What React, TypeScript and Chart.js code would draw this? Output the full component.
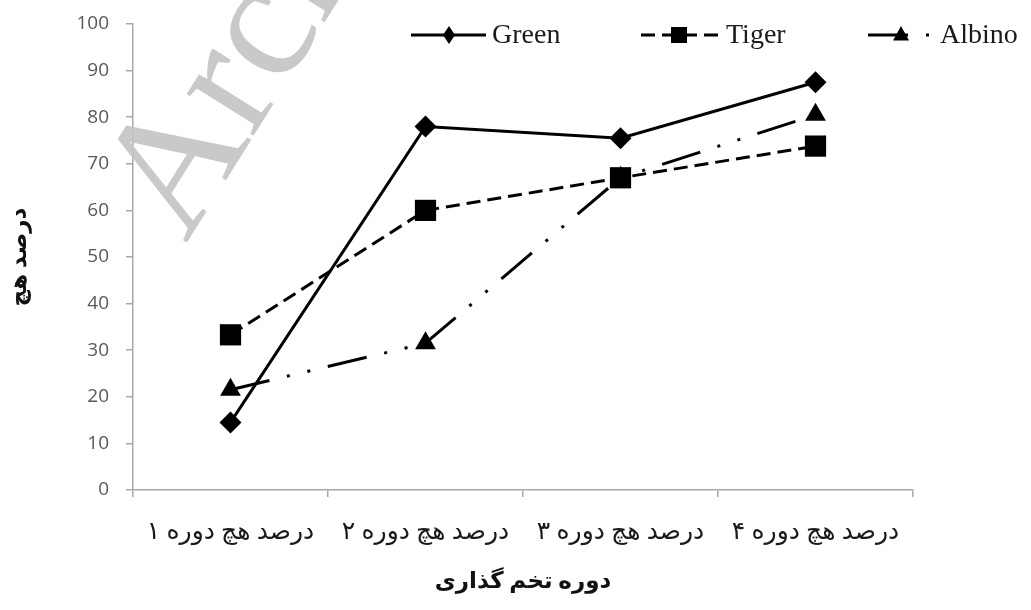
import React, { useEffect, useRef } from "react";
import { Chart, registerables } from "chart.js";

Chart.register(...registerables);

const categories = ["درصد هچ دوره ۱", "درصد هچ دوره ۲", "درصد هچ دوره ۳", "درصد هچ دوره ۴"];
const seriesNames = ["Green", "Tiger", "Albino"];
const greenValues = [14.5, 78, 75.5, 87.5];
const tigerValues = [33.3, 60, 67, 73.8];
const albinoValues = [21.5, 31.5, 67, 80.5];
const yMin = 0;
const yMax = 100;
const yStep = 10;
const yTitle = "درصد هچ";
const xTitle = "دوره تخم گذاری";
const watermarkText = "Archive of SID";

const AXIS_COLOR = "#a8a8a8";
const LABEL_FONT = '"Liberation Serif", "DejaVu Sans", serif';

function drawMarker(ctx: CanvasRenderingContext2D, style: string, x: number, y: number, hw: number, hh: number) {
  ctx.beginPath();
  if (style === "rectRot") {
    ctx.moveTo(x, y - hh);
    ctx.lineTo(x + hw, y);
    ctx.lineTo(x, y + hh);
    ctx.lineTo(x - hw, y);
  } else if (style === "rect") {
    ctx.rect(x - hw, y - hh, hw * 2, hh * 2);
  } else {
    ctx.moveTo(x, y - hh);
    ctx.lineTo(x + hw, y + hh * 0.6);
    ctx.lineTo(x - hw, y + hh * 0.6);
  }
  ctx.closePath();
  ctx.fill();
}

const legendPlugin = {
  id: "customLegend",
  afterDraw(chart: any) {
    const ctx: CanvasRenderingContext2D = chart.ctx;
    const items = [
      { x0: 411, x1: 486, mx: 449, tx: 492, hw: 6, hh: 9 },
      { x0: 641, x1: 722, mx: 679, tx: 726, hw: 8, hh: 8 },
      { x0: 868, x1: 934, mx: 901, tx: 940, hw: 8, hh: 9 },
    ];
    const y = 35;
    chart.data.datasets.forEach((ds: any, i: number) => {
      const it = items[i];
      ctx.save();
      ctx.strokeStyle = ds.borderColor;
      ctx.fillStyle = ds.borderColor;
      ctx.lineWidth = ds.borderWidth;
      ctx.setLineDash(ds.borderDash || []);
      ctx.beginPath();
      ctx.moveTo(it.x0, y);
      ctx.lineTo(it.x1, y);
      ctx.stroke();
      ctx.setLineDash([]);
      drawMarker(ctx, ds.pointStyle, it.mx, y, it.hw, it.hh);
      ctx.fillStyle = "#1a1a1a";
      ctx.font = '28px "Liberation Serif", serif';
      ctx.textBaseline = "middle";
      ctx.textAlign = "left";
      ctx.fillText(ds.label, it.tx, y + 1);
      ctx.restore();
    });
  },
};

const watermarkPlugin = {
  id: "watermark",
  afterDraw(chart: any) {
    const ctx: CanvasRenderingContext2D = chart.ctx;
    ctx.save();
    ctx.translate(186, 244);
    ctx.rotate((-58 * Math.PI) / 180);
    ctx.fillStyle = "rgba(195,195,195,0.9)";
    ctx.font = '172px "Liberation Serif", serif';
    ctx.textBaseline = "alphabetic";
    ctx.fillText(watermarkText, 0, 0);
    ctx.restore();
  },
};

export default function App() {
  const ref = useRef<HTMLCanvasElement | null>(null);

  useEffect(() => {
    document.body.style.margin = "0";
    if (!ref.current) return;
    const chart = new Chart(ref.current, {
      type: "line",
      data: {
        labels: categories,
        datasets: [
          {
            label: seriesNames[0],
            data: greenValues,
            borderColor: "#000",
            backgroundColor: "#000",
            borderWidth: 3,
            pointStyle: "rectRot",
            pointRadius: 11,
            pointBorderWidth: 0,
            tension: 0,
          },
          {
            label: seriesNames[1],
            data: tigerValues,
            borderColor: "#000",
            backgroundColor: "#000",
            borderWidth: 3,
            borderDash: [14, 7],
            pointStyle: "rect",
            pointRadius: 15,
            pointBorderWidth: 0,
            tension: 0,
          },
          {
            label: seriesNames[2],
            data: albinoValues,
            borderColor: "#000",
            backgroundColor: "#000",
            borderWidth: 3,
            borderDash: [40, 18, 3, 18, 3, 18],
            pointStyle: "triangle",
            pointRadius: 12,
            pointBorderWidth: 0,
            tension: 0,
          },
        ],
      },
      options: {
        responsive: false,
        animation: false,
        layout: { padding: { left: 0, top: 24, right: 118, bottom: 0 } },
        plugins: {
          legend: { display: false },
          tooltip: { enabled: false },
        },
        scales: {
          x: {
            type: "category",
            offset: true,
            grid: {
              display: true,
              offset: true,
              drawOnChartArea: false,
              drawTicks: true,
              tickLength: 7,
              color: AXIS_COLOR,
              lineWidth: 1.5,
            },
            border: { display: true, color: AXIS_COLOR, width: 1.5 },
            ticks: {
              color: "#1a1a1a",
              font: { family: LABEL_FONT, size: 25 },
              padding: 20,
              maxRotation: 0,
              minRotation: 0,
              autoSkip: false,
            },
            title: {
              display: true,
              text: xTitle,
              color: "#111",
              font: { family: LABEL_FONT, size: 23, weight: "bold" },
              padding: { top: 0, bottom: 14 },
            },
            afterFit(scale: any) {
              scale.height = 120;
              scale.paddingLeft = 0;
              scale.paddingRight = 0;
            },
          },
          y: {
            min: yMin,
            max: yMax,
            grid: {
              display: true,
              drawOnChartArea: false,
              drawTicks: true,
              tickLength: 7,
              color: AXIS_COLOR,
              lineWidth: 1.5,
            },
            border: { display: true, color: AXIS_COLOR, width: 1.5 },
            ticks: {
              stepSize: yStep,
              color: "#595959",
              font: { family: '"Open Sans", "DejaVu Sans", sans-serif', size: 19 },
              padding: 17,
            },
            title: {
              display: true,
              text: yTitle,
              color: "#111",
              font: { family: LABEL_FONT, size: 23, weight: "bold" },
              padding: { top: 6, bottom: 0 },
            },
            afterFit(scale: any) {
              scale.width = 133;
              scale.paddingTop = 10;
              scale.paddingBottom = 10;
            },
          },
        },
      },
      plugins: [watermarkPlugin, legendPlugin],
    } as any);
    return () => chart.destroy();
  }, []);

  return (
    <div style={{ width: 1031, height: 610, background: "#fff" }}>
      <canvas ref={ref} width={1031} height={610} style={{ display: "block" }} />
    </div>
  );
}
